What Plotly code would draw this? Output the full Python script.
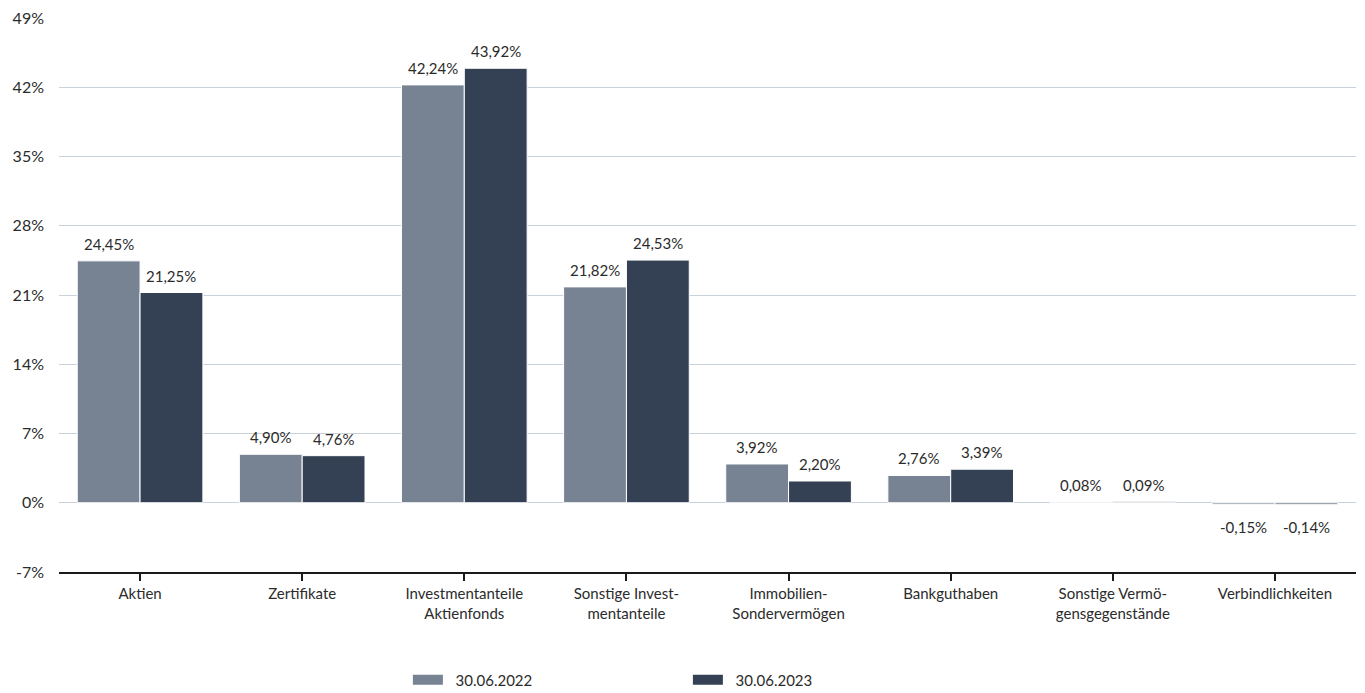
import plotly.graph_objects as go

categories = ["Aktien", "Zertifikate", "Investmentanteile<br>Aktienfonds", "Sonstige Invest-<br>mentanteile",
              "Immobilien-<br>Sondervermögen", "Bankguthaben", "Sonstige Vermö-<br>gensgegenstände", "Verbindlichkeiten"]
series_names = ["30.06.2022", "30.06.2023"]
values_2022 = [24.45, 4.90, 42.24, 21.82, 3.92, 2.76, 0.08, -0.15]
values_2023 = [21.25, 4.76, 43.92, 24.53, 2.20, 3.39, 0.09, -0.14]
y_ticks = [-7, 0, 7, 14, 21, 28, 35, 42, 49]

colors = ["#778292", "#344154"]
FONT = "Lato, 'Open Sans', sans-serif"
TEXTC = "#2b2b2b"
BARGAP = 0.225

def fmt(v):
    return f"{v:.2f}".replace(".", ",") + "%"

fig = go.Figure()
xs = list(range(len(categories)))
half = (1 - BARGAP) / 4
for k, (name, vals, col) in enumerate(zip(series_names, [values_2022, values_2023], colors)):
    fig.add_trace(go.Bar(
        x=xs, y=vals, name=name,
        marker=dict(color=col, line=dict(color="white", width=1)),
        showlegend=False, cliponaxis=False,
    ))
    off = -half if k == 0 else half
    for xi, v in zip(xs, vals):
        fig.add_annotation(
            x=xi + off, y=v, xref="x", yref="y", text=fmt(v), showarrow=False,
            yanchor="bottom" if v >= 0 else "top",
            yshift=6 if v >= 0 else -12,
            font=dict(size=15, color=TEXTC, family=FONT),
        )
# legend entries drawn as wide rectangles
for name, col in zip(series_names, colors):
    fig.add_trace(go.Scatter(
        x=[None], y=[None], mode="lines", name="\u00a0\u00a0" + name,
        line=dict(color=col, width=10), showlegend=True,
    ))

fig.update_layout(
    width=1365, height=693,
    margin=dict(l=59, r=9, t=18, b=121, autoexpand=False),
    paper_bgcolor="white", plot_bgcolor="white",
    barmode="group", bargap=BARGAP, bargroupgap=0.0,
    font=dict(family=FONT, size=15, color=TEXTC),
    showlegend=True,
    legend=dict(orientation="h", x=0.269, xanchor="left", y=-0.195, yanchor="middle",
                entrywidth=235, font=dict(size=15, color=TEXTC), traceorder="normal",
                itemwidth=30),
)
fig.update_xaxes(
    tickmode="array", tickvals=xs, ticktext=categories,
    range=[-0.5, len(categories) - 0.5], automargin=False,
    showline=True, linecolor="#1a1a1a", linewidth=2,
    ticks="outside", tickson="boundaries", ticklen=7, tickcolor="#1a1a1a", tickwidth=1.5,
    showgrid=False, tickfont=dict(size=15, color=TEXTC),
)
fig.update_yaxes(
    range=[-7, 49], tickvals=y_ticks, ticktext=[f"{t}%" for t in y_ticks],
    showgrid=True, gridcolor="#c9d1da", gridwidth=1, automargin=False,
    zeroline=False, showline=False, ticks="", ticklabelstandoff=14,
    tickfont=dict(size=16, color=TEXTC),
)

fig.write_html("out.html")
